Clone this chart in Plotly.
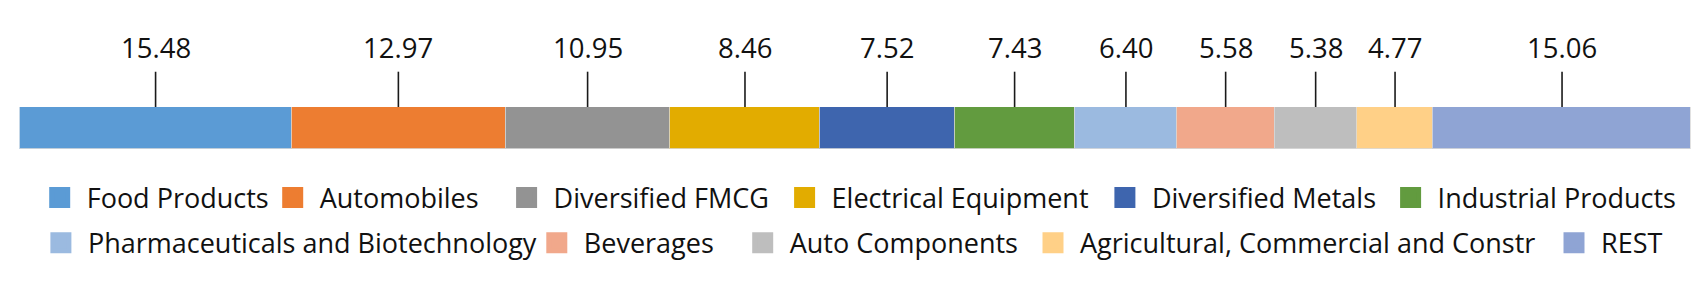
import plotly.graph_objects as go

# ---- data ----
categories = ["Food Products", "Automobiles", "Diversified FMCG", "Electrical Equipment",
              "Diversified Metals", "Industrial Products", "Pharmaceuticals and Biotechnology",
              "Beverages", "Auto Components", "Agricultural, Commercial and Constr", "REST"]
weight_labels = [15.48, 12.97, 10.95, 8.46, 7.52, 7.43, 6.40, 5.58, 5.38, 4.77, 15.06]
# drawn segment lengths (share of the bar, as measured on the picture)
bar_lengths = [16.27, 12.78, 9.86, 8.97, 8.04, 7.21, 6.11, 5.82, 4.95, 4.55, 15.43]
colors = ["#5B9BD5", "#ED7D31", "#939393", "#E2AC00", "#3E65AE", "#629B3F",
          "#9BBAE0", "#F1A88B", "#BEBEBE", "#FFD087", "#8FA4D4"]

# ---- layout: legend key positions (key-square centre in px, row centre in px) ----
W, H = 1707, 299
legend_key_x = [59.7, 292.7, 526.6, 804.6, 1124.9, 1410.6,
                60.9, 556.8, 762.7, 1053.0, 1574.0]
legend_row_y = [198.0] * 6 + [243.3] * 5
ITEMWIDTH = 44
FONT = "Open Sans, Lato, sans-serif"

fig = go.Figure()

# stacked horizontal bar
for cat, val, col in zip(categories, bar_lengths, colors):
    fig.add_trace(go.Bar(
        x=[val], y=[0], orientation="h", width=1,
        marker=dict(color=col, line=dict(color="rgba(217,217,217,0.8)", width=1)),
        name=cat, showlegend=False, hoverinfo="skip"))

# legend entries (square keys), one legend per entry so each sits where the reference has it
legend_layout = {}
for i, (cat, col) in enumerate(zip(categories, colors)):
    lg = "legend" if i == 0 else f"legend{i + 1}"
    fig.add_trace(go.Scatter(
        x=[None], y=[None], mode="markers", name=cat, legend=lg,
        marker=dict(symbol="square", size=16, color=col, line=dict(color=col, width=5))))
    legend_layout[lg] = dict(
        orientation="h", xanchor="left", yanchor="middle", itemwidth=ITEMWIDTH,
        x=(legend_key_x[i] - (ITEMWIDTH + 10) / 2) / W, y=(H - legend_row_y[i]) / H,
        font=dict(family=FONT, size=27, color="#111111"),
        bgcolor="rgba(0,0,0,0)", borderwidth=0)

# labels with tick lines at segment centres
annotations, shapes = [], []
start = 0.0
for val, lab in zip(bar_lengths, weight_labels):
    c = start + val / 2
    start += val
    shapes.append(dict(type="line", xref="x", yref="paper",
                       x0=c, x1=c, y0=(H - 107) / H, y1=(H - 71.7) / H,
                       line=dict(color="#1a1a1a", width=1.6)))
    annotations.append(dict(x=c, y=0.5, xref="x", yref="y", text=f"{lab:.2f}",
                            showarrow=False, yanchor="middle", xanchor="center",
                            yshift=59.2, font=dict(family=FONT, size=27.5, color="#111111")))

total = sum(bar_lengths)

fig.update_layout(
    width=W, height=H, margin=dict(l=0, r=0, t=0, b=0),
    paper_bgcolor="white", plot_bgcolor="white",
    barmode="stack", bargap=0,
    xaxis=dict(domain=[19.6 / W, 1691 / W], range=[0, total], visible=False, fixedrange=True),
    yaxis=dict(domain=[(H - 149) / H, (H - 107) / H], range=[-0.5, 0.5], visible=False,
               fixedrange=True),
    annotations=annotations, shapes=shapes,
    showlegend=True,
    **legend_layout,
)

fig.write_html("out.html", config={"displayModeBar": False})
